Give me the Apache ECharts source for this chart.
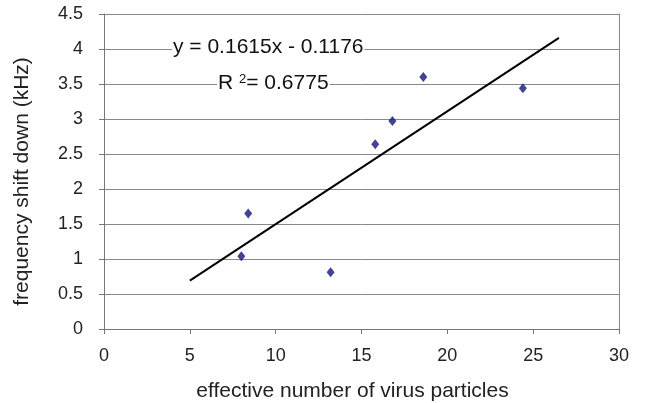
<!DOCTYPE html>
<html><head><meta charset="utf-8">
<script src="https://cdn.jsdelivr.net/npm/echarts@6/dist/echarts.min.js"></script>
<style>html,body{margin:0;padding:0;background:#fff}#c{width:645px;height:403px}</style>
</head><body><div id="c"></div>
<script>
const virusParticles = [8.0, 8.4, 13.2, 15.8, 16.8, 18.6, 24.4];
const freqShift = [1.04, 1.65, 0.81, 2.64, 2.97, 3.60, 3.44];
const trendX = [5, 26.5];
const trendY = [0.69, 4.16];
const xTicks = [0, 5, 10, 15, 20, 25, 30];
const yTicks = [0, 0.5, 1, 1.5, 2, 2.5, 3, 3.5, 4, 4.5];

const font = 'Liberation Sans, Arial, Helvetica, sans-serif';
const chart = echarts.init(document.getElementById('c'));
chart.setOption({
  animation: false,
  grid: {left: 104, right: 26, top: 14, bottom: 74, containLabel: false, outerBoundsMode: 'none'},
  xAxis: {
    type: 'value', min: xTicks[0], max: xTicks[xTicks.length-1], interval: 5,
    name: 'effective number of virus particles', nameLocation: 'middle', nameGap: 52,
    nameTextStyle: {fontFamily: font, fontSize: 21, color: '#222', padding: [0, 18, 0, 0]},
    axisLine: {show: true, onZero: false, lineStyle: {color: '#777'}},
    axisTick: {show: true, length: 5, lineStyle: {color: '#777'}},
    axisLabel: {fontFamily: font, fontSize: 18, color: '#222', margin: 18},
    splitLine: {show: false}
  },
  yAxis: [{
    type: 'value', min: yTicks[0], max: yTicks[yTicks.length-1], interval: 0.5,
    name: 'frequency shift down (kHz)', nameLocation: 'middle', nameGap: 71,
    nameTextStyle: {fontFamily: font, fontSize: 21, color: '#222', padding: [0, 20, 0, 0]},
    axisLine: {show: true, lineStyle: {color: '#777'}},
    axisTick: {show: true, length: 5, lineStyle: {color: '#777'}},
    axisLabel: {fontFamily: font, fontSize: 18, color: '#222', margin: 21},
    splitLine: {show: true, lineStyle: {color: '#888', width: 1}}
  }, {
    type: 'value', min: yTicks[0], max: yTicks[yTicks.length-1], interval: 0.5, position: 'right',
    axisLine: {show: true, lineStyle: {color: '#888'}},
    axisTick: {show: false}, axisLabel: {show: false}, splitLine: {show: false}
  }],
  series: [{
    type: 'line', data: trendX.map((x, i) => [x, trendY[i]]),
    showSymbol: false, lineStyle: {color: '#000', width: 2}, z: 3
  }, {
    type: 'scatter', data: virusParticles.map((x, i) => [x, freqShift[i]]),
    symbol: 'diamond', symbolSize: [8, 10], itemStyle: {color: '#14147a'}, z: 4
  }],
  graphic: [{
    type: 'text', left: 172, top: 36, z: 10,
    style: {text: 'y = 0.1615x - 0.1176', fontFamily: font, fontSize: 21, fill: '#111', backgroundColor: '#fff', padding: [1, 1]}
  }, {
    type: 'text', left: 217, top: 72, z: 10,
    style: {text: '{a|R }{s|2}{a|= 0.6775}', fontFamily: font, fontSize: 21, fill: '#111', backgroundColor: '#fff', padding: [1, 1],
      rich: {a: {fontFamily: font, fontSize: 21, fill: '#111'}, s: {fontFamily: font, fontSize: 13, fill: '#111', verticalAlign: 'top', padding: [0, 0, 8, 0]}}}
  }]
});
</script></body></html>
